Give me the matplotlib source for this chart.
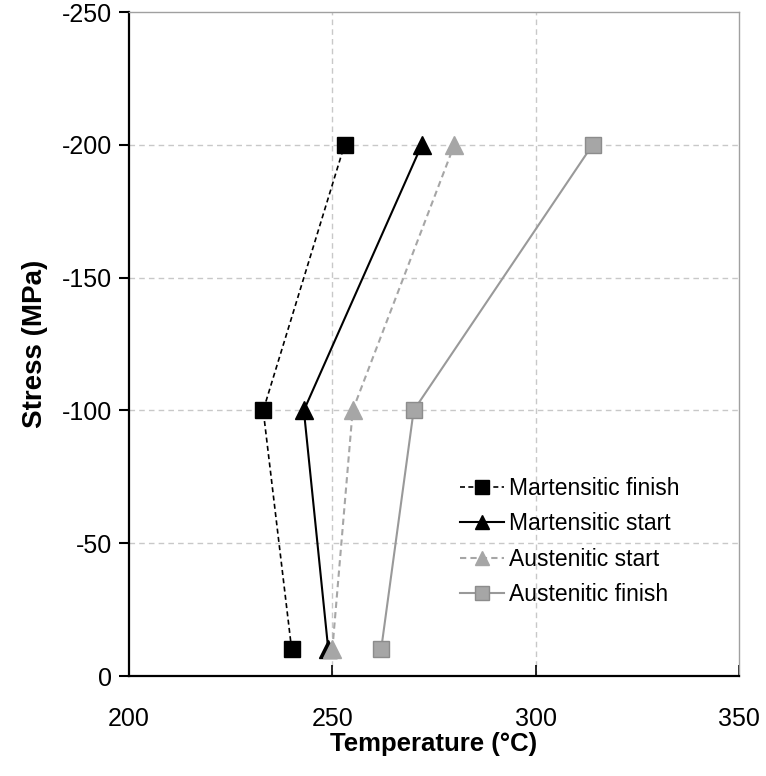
import matplotlib
matplotlib.use("Agg")
import matplotlib.pyplot as plt

plt.rcParams['font.family'] = ['Liberation Sans', 'DejaVu Sans']
plt.rcParams['axes.unicode_minus'] = False

# Transformation temperatures (°C) at each applied stress level (MPa)
stress = [-10, -100, -200]
mart_finish = [240, 233, 253]
mart_start = [249, 243, 272]
aust_start = [250, 255, 280]
aust_finish = [262, 270, 314]

series_labels = ["Martensitic finish", "Martensitic start",
                 "Austenitic start", "Austenitic finish"]
x_ticks = [200, 250, 300, 350]
y_ticks = [0, -50, -100, -150, -200, -250]

fig = plt.figure(figsize=(7.66, 7.76), dpi=100)
ax = fig.add_axes([129 / 766, 100 / 776, 610 / 766, 664 / 776])

grid_kw = dict(color="#C8C8C8", linestyle=(0, (4, 3)), linewidth=1.0, zorder=0)
for xv in x_ticks[1:-1]:
    ax.axvline(xv, **grid_kw)
for yv in y_ticks[1:-1]:
    ax.axhline(yv, **grid_kw)

ms = 11.5
ax.plot(mart_finish, stress, linestyle=(0, (3, 2)), color="black", linewidth=1.2,
        marker="s", markersize=ms, markerfacecolor="black", markeredgecolor="black",
        label=series_labels[0], zorder=3)
ax.plot(mart_start, stress, linestyle="-", color="black", linewidth=1.5,
        marker="^", markersize=ms + 1, markerfacecolor="black", markeredgecolor="black",
        label=series_labels[1], zorder=3)
ax.plot(aust_start, stress, linestyle=(0, (3, 2)), color="#A6A6A6", linewidth=1.5,
        marker="^", markersize=ms + 1, markerfacecolor="#A6A6A6", markeredgecolor="#A6A6A6",
        label=series_labels[2], zorder=4)
ax.plot(aust_finish, stress, linestyle="-", color="#999999", linewidth=1.5,
        marker="s", markersize=ms, markerfacecolor="#A6A6A6", markeredgecolor="#8C8C8C",
        label=series_labels[3], zorder=3)

ax.set_xlim(200, 350)
ax.set_ylim(0, -250)
ax.set_xticks(x_ticks)
ax.set_yticks(y_ticks)
ax.tick_params(axis="x", direction="in", length=8, width=1.2, labelsize=18, pad=22)
ax.tick_params(axis="y", direction="out", length=7, width=1.5, labelsize=18, pad=5)

for side in ("left", "bottom"):
    ax.spines[side].set_linewidth(1.6)
    ax.spines[side].set_color("black")
for side in ("top", "right"):
    ax.spines[side].set_linewidth(1.0)
    ax.spines[side].set_color("#A0A0A0")

ax.set_xlabel("Temperature (°C)", fontsize=18.5, fontweight="bold", labelpad=1)
ax.set_ylabel("Stress (MPa)", fontsize=20, fontweight="bold", labelpad=10)

leg = ax.legend(loc="center left", bbox_to_anchor=(460 / 766, 1 - 541.5 / 776),
                bbox_transform=fig.transFigure, frameon=False, fontsize=16.5,
                handlelength=1.92, handletextpad=0.22, labelspacing=0.53,
                borderpad=0, borderaxespad=0, markerscale=0.85)

fig.savefig("out.png", dpi=100)
